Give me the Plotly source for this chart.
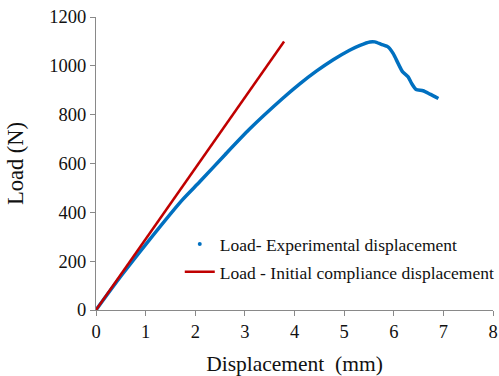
import plotly.graph_objects as go

# Load-displacement test record (mm, N)
exp_disp = [0.0, 0.5, 1.02, 1.74, 2.09, 2.6, 3.09, 3.77, 4.1, 4.44, 4.78, 5.11,
            5.32, 5.52, 5.62, 5.75, 5.89, 5.99, 6.09, 6.18, 6.29, 6.36, 6.45,
            6.59, 6.73, 6.90]
exp_load = [0, 138, 273, 451, 525, 636, 740, 868, 925, 978, 1025, 1064,
            1084, 1098, 1098, 1088, 1077, 1050, 1009, 975, 955, 928, 903,
            898, 884, 866]

# Initial-compliance prediction (straight line from the origin)
comp_disp = [0.0, 3.79]
comp_load = [0, 1100]

x_ticks = [0, 1, 2, 3, 4, 5, 6, 7, 8]
y_ticks = [0, 200, 400, 600, 800, 1000, 1200]

BLUE = "#0070C0"
RED = "#C00000"
FONT = "Times New Roman, Liberation Serif, serif"
TEXT = "#111111"

fig = go.Figure()

fig.add_trace(go.Scatter(
    x=exp_disp, y=exp_load, mode="lines",
    line=dict(color=BLUE, width=3.5, shape="spline", smoothing=0.6),
    showlegend=False, hoverinfo="skip"))
fig.add_trace(go.Scatter(
    x=[None], y=[None], mode="markers",
    marker=dict(color=BLUE, size=4),
    name="Load- Experimental displacement", legend="legend"))

fig.add_trace(go.Scatter(
    x=comp_disp, y=comp_load, mode="lines",
    line=dict(color=RED, width=2.5),
    name="Load - Initial compliance displacement", legend="legend2"))

axis_common = dict(
    showgrid=False, zeroline=False, showline=True, automargin=False,
    linecolor="#898989", linewidth=1,
    ticks="outside", ticklen=5, tickcolor="#898989", tickwidth=1,
    tickfont=dict(family=FONT, size=18.5, color=TEXT),
)

fig.update_layout(
    width=499, height=376,
    margin=dict(l=96, r=6, t=17, b=66, autoexpand=False),
    paper_bgcolor="white", plot_bgcolor="white",
    font=dict(family=FONT, color=TEXT),
    xaxis=dict(range=[0, 8], tickvals=x_ticks,
               title=dict(text="Displacement  (mm)",
                          font=dict(family=FONT, size=21.5, color=TEXT),
                          standoff=17),
               **axis_common),
    yaxis=dict(range=[0, 1200], tickvals=y_ticks,
               title=dict(text="Load (N)",
                          font=dict(family=FONT, size=22.5, color=TEXT),
                          standoff=19),
               **axis_common),
    legend=dict(x=0.211, y=0.225, xanchor="left", yanchor="middle",
                bgcolor="rgba(0,0,0,0)", font=dict(family=FONT, size=17.5, color=TEXT)),
    legend2=dict(x=0.211, y=0.130, xanchor="left", yanchor="middle",
                 bgcolor="rgba(0,0,0,0)", font=dict(family=FONT, size=17.5, color=TEXT)),
)

fig.write_html("out.html")
